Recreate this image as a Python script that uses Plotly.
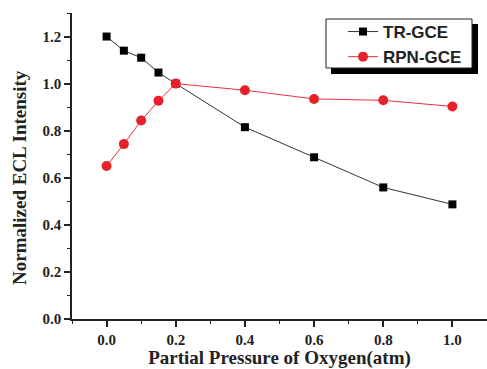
import plotly.graph_objects as go

x_tr = [0.0, 0.05, 0.1, 0.15, 0.2, 0.4, 0.6, 0.8, 1.0]
y_tr = [1.2, 1.14, 1.11, 1.047, 1.0, 0.815, 0.687, 0.559, 0.487]
x_rpn = [0.0, 0.05, 0.1, 0.15, 0.2, 0.4, 0.6, 0.8, 1.0]
y_rpn = [0.65, 0.743, 0.843, 0.927, 1.0, 0.972, 0.935, 0.929, 0.903]
x_ticks = [0.0, 0.2, 0.4, 0.6, 0.8, 1.0]
y_ticks = [0.0, 0.2, 0.4, 0.6, 0.8, 1.0, 1.2]
names = ["TR-GCE", "RPN-GCE"]

W, H = 487, 369
L, R, T, B = 72, 0, 13, 50
pw, ph = W - L - R, H - T - B

def px(xp):
    return (xp - L) / pw

def py(yp):
    return (H - B - yp) / ph

fig = go.Figure()
fig.add_trace(go.Scatter(x=x_tr, y=y_tr, mode="lines+markers", name=f"<b>{names[0]}</b>",
                         line=dict(color="#333333", width=1),
                         marker=dict(symbol="square", size=8, color="black")))
fig.add_trace(go.Scatter(x=x_rpn, y=y_rpn, mode="lines+markers", name=f"<b>{names[1]}</b>",
                         line=dict(color="#e8303a", width=1),
                         marker=dict(symbol="circle", size=10, color="#e8202a")))

tickfont = dict(family="Liberation Serif", size=15, color="#222222")
titlefont = dict(family="Liberation Serif", size=19, color="#222222")

fig.update_layout(
    width=W, height=H,
    margin=dict(l=L, r=R, t=T, b=B),
    paper_bgcolor="white", plot_bgcolor="white",
    showlegend=True,
    legend=dict(x=px(343), y=py(14), xanchor="left", yanchor="top",
                borderwidth=0, bgcolor="rgba(0,0,0,0)",
                font=dict(family="Liberation Sans", size=17, color="#222222"),
                tracegroupgap=0),
    xaxis=dict(range=[-0.1, 1.1], tickvals=x_ticks, ticktext=[f"<b>{v:.1f}</b>" for v in x_ticks],
               showgrid=False, zeroline=False, showline=True, linecolor="#222222", linewidth=1.5,
               ticks="outside", ticklen=6, tickwidth=1.5, tickcolor="#222222",
               minor=dict(dtick=0.1, ticks="outside", ticklen=3, tickwidth=1.2, tickcolor="#222222"),
               tickfont=tickfont,
               title=dict(text="<b>Partial Pressure of Oxygen(atm)</b>", font=titlefont, standoff=6)),
    yaxis=dict(range=[0, 1.3], tickvals=y_ticks, ticktext=[f"<b>{v:.1f}</b>" for v in y_ticks],
               showgrid=False, zeroline=False, showline=True, linecolor="#222222", linewidth=1.5,
               ticks="outside", ticklen=6, tickwidth=1.5, tickcolor="#222222",
               minor=dict(dtick=0.1, ticks="outside", ticklen=3, tickwidth=1.2, tickcolor="#222222"),
               tickfont=tickfont),
)

fig.add_annotation(text="<b>Normalized ECL Intensity</b>", font=titlefont, textangle=-90,
                   xref="paper", yref="paper", x=px(19), y=py(178),
                   xanchor="center", yanchor="middle", showarrow=False)

# legend frame with drop shadow
fig.add_shape(type="rect", xref="paper", yref="paper",
              x0=px(331), x1=px(478), y0=py(74), y1=py(24),
              fillcolor="black", line=dict(width=0), layer="above")
fig.add_shape(type="rect", xref="paper", yref="paper",
              x0=px(326), x1=px(472), y0=py(68), y1=py(19),
              fillcolor="white", line=dict(color="#222222", width=1), layer="above")

fig.write_html("out.html")
